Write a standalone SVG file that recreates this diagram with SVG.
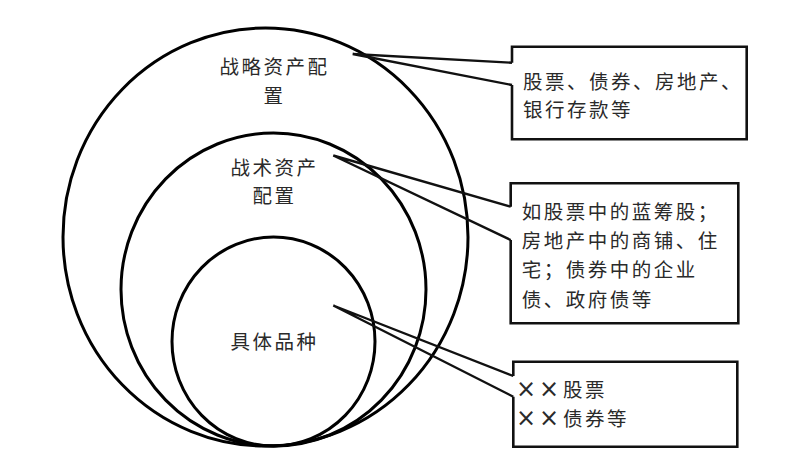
<svg xmlns="http://www.w3.org/2000/svg" width="800" height="466" viewBox="0 0 800 466">
<style>
.c{fill:none;stroke:#000;stroke-width:3}
.b{fill:none;stroke:#111;stroke-width:2.6;stroke-linejoin:miter}
.w{fill:none;stroke:#111;stroke-width:2.4;stroke-linejoin:miter}
text{font-family:"Noto Sans CJK SC","Noto Sans",sans-serif;font-size:19.5px;letter-spacing:2.5px;fill:#2a2a2a}
.m{text-anchor:middle}
.x{font-family:"DejaVu Sans",sans-serif;font-size:24px;letter-spacing:0}
</style>
<rect width="800" height="466" fill="#fff"/>
<g id="strategic">
<ellipse class="c" cx="265.5" cy="237" rx="202.5" ry="209"/>
<text class="m" x="274.5" y="74">战略资产配</text>
<text class="m" x="274.5" y="103">置</text>
</g>
<g id="tactical">
<ellipse class="c" cx="273.5" cy="289.5" rx="152.5" ry="156.5"/>
<text class="m" x="274.5" y="175">战术资产</text>
<text class="m" x="274.5" y="203">配置</text>
</g>
<g id="specific">
<ellipse class="c" cx="273.5" cy="341.5" rx="101.5" ry="104.5"/>
<text class="m" x="274.5" y="349">具体品种</text>
</g>
<g id="box1">
<path class="b" d="M512,62.7 L512,46.7 L746.7,46.7 L746.7,139.3 L512,139.3 L512,85"/>
<text x="523" y="89">股票、债券、房地产、</text>
<text x="523" y="117">银行存款等</text>
</g>
<g id="box2">
<path class="b" d="M510.7,206.7 L510.7,183.3 L738.3,183.3 L738.3,323.3 L510.7,323.3 L510.7,240"/>
<text x="521.7" y="219">如股票中的蓝筹股；</text>
<text x="521.7" y="248">房地产中的商铺、住</text>
<text x="521.7" y="277">宅；债券中的企业</text>
<text x="521.7" y="307">债、政府债等</text>
</g>
<g id="box3">
<path class="b" d="M513.3,376 L513.3,361.7 L737.3,361.7 L737.3,446.7 L513.3,446.7 L513.3,396.7"/>
<text x="518" y="397"><tspan class="x" x="516">×</tspan><tspan class="x" x="539">×</tspan><tspan x="563">股票</tspan></text>
<text x="518" y="426"><tspan class="x" x="516">×</tspan><tspan class="x" x="539">×</tspan><tspan x="563">债券等</tspan></text>
</g>
<g id="connectors">
<polyline class="w" points="512,62.7 352.7,54 512,85"/>
<polyline class="w" points="510.7,206.7 333.3,155.5 510.7,240"/>
<polyline class="w" points="513.3,376 333.3,305.5 513.3,396.7"/>
</g>
</svg>
